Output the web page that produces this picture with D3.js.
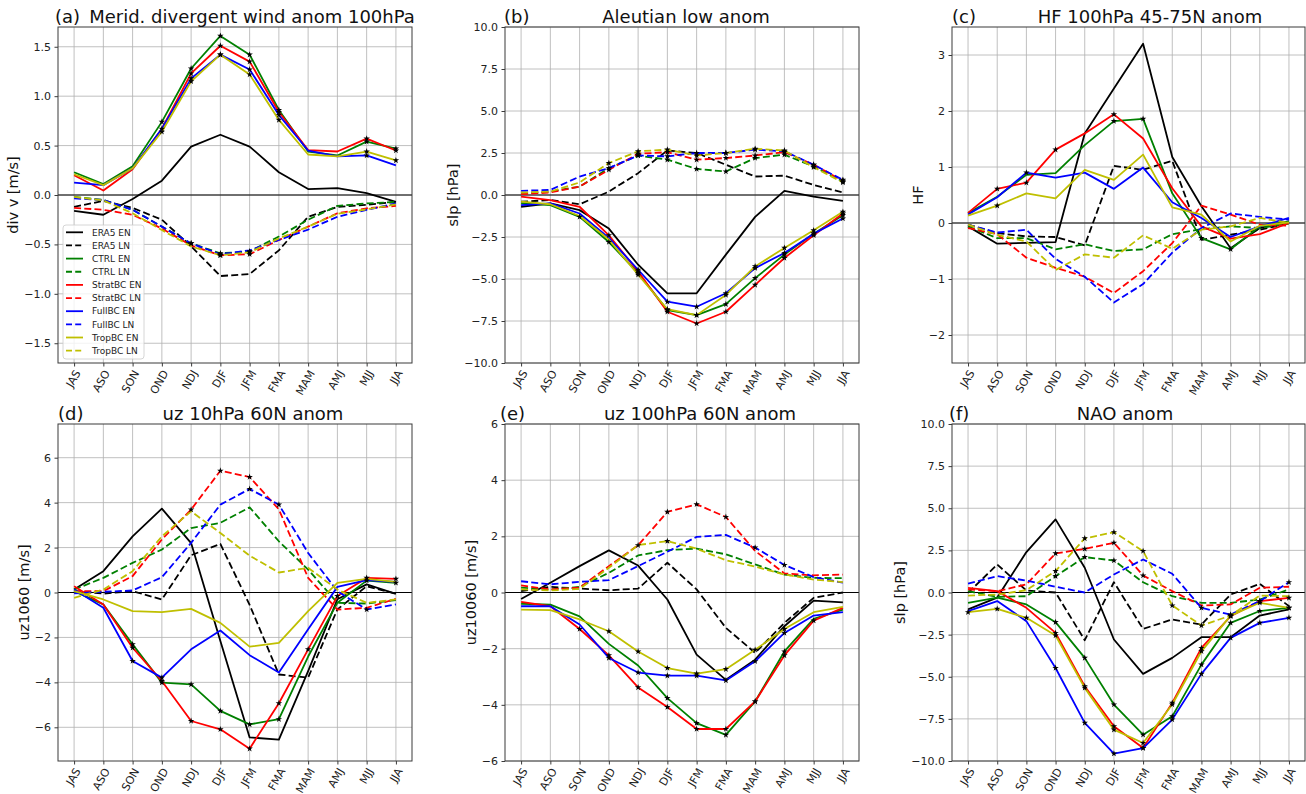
<!DOCTYPE html>
<html><head><meta charset="utf-8">
<script src="https://cdn.jsdelivr.net/npm/d3@7"></script>
<style>body{margin:0;background:#fff} svg{display:block;font-family:"DejaVu Sans",sans-serif}</style>
</head><body><svg id="c" width="1306" height="794"></svg>
<script>
const months = ["JAS","ASO","SON","OND","NDJ","DJF","JFM","FMA","MAM","AMJ","MJJ","JJA"];
const seriesNames = ["ERA5 EN","ERA5 LN","CTRL EN","CTRL LN","StratBC EN","StratBC LN","FullBC EN","FullBC LN","TropBC EN","TropBC LN"];

// (a) Merid. divergent wind anom 100hPa
const dataA = [
  [-0.16,-0.20,-0.04,0.145,0.49,0.61,0.49,0.23,0.06,0.07,0.02,-0.07],
  [-0.12,-0.06,-0.13,-0.25,-0.52,-0.82,-0.80,-0.56,-0.22,-0.12,-0.10,-0.07],
  [0.23,0.11,0.29,0.74,1.28,1.61,1.42,0.86,0.44,0.40,0.54,0.47],
  [-0.02,-0.05,-0.15,-0.32,-0.49,-0.59,-0.57,-0.42,-0.25,-0.11,-0.085,-0.07],
  [0.20,0.045,0.26,0.67,1.23,1.51,1.35,0.84,0.455,0.44,0.57,0.45],
  [-0.13,-0.15,-0.20,-0.34,-0.51,-0.61,-0.60,-0.455,-0.32,-0.185,-0.135,-0.11],
  [0.125,0.10,0.27,0.67,1.18,1.42,1.27,0.81,0.45,0.39,0.40,0.30],
  [-0.035,-0.05,-0.15,-0.32,-0.49,-0.60,-0.56,-0.455,-0.35,-0.22,-0.15,-0.085],
  [0.21,0.10,0.27,0.64,1.15,1.42,1.22,0.76,0.41,0.39,0.44,0.35],
  [-0.02,-0.055,-0.185,-0.355,-0.52,-0.61,-0.58,-0.44,-0.32,-0.19,-0.145,-0.095]
];
// (b) Aleutian low anom
const dataB = [
  [-0.7,-0.5,-0.9,-2.0,-4.15,-5.85,-5.85,-3.55,-1.3,0.25,-0.1,-0.35],
  [-0.4,-0.3,-0.55,0.2,1.3,2.65,2.5,1.8,1.1,1.15,0.6,0.15],
  [-0.5,-0.6,-1.3,-2.8,-4.65,-6.85,-7.15,-6.5,-4.95,-3.55,-2.3,-1.2],
  [0.1,0.2,0.5,1.6,2.35,2.1,1.55,1.4,2.2,2.4,1.7,0.8],
  [-0.1,-0.3,-0.7,-2.4,-4.55,-6.95,-7.65,-6.95,-5.35,-3.75,-2.4,-1.1],
  [0.05,0.15,0.5,1.5,2.45,2.55,2.1,2.2,2.35,2.55,1.8,0.85],
  [-0.6,-0.5,-1.1,-2.55,-4.45,-6.35,-6.65,-5.85,-4.35,-3.45,-2.3,-1.4],
  [0.25,0.3,1.1,1.6,2.35,2.3,2.5,2.5,2.7,2.6,1.8,0.9],
  [-0.4,-0.55,-1.25,-2.65,-4.75,-6.8,-7.15,-5.95,-4.25,-3.15,-2.1,-1.0],
  [0.15,0.2,0.75,1.9,2.6,2.7,2.35,2.5,2.75,2.65,1.65,0.75]
];
// (c) HF 100hPa 45-75N anom
const dataC = [
  [-0.06,-0.37,-0.355,-0.34,1.6,2.4,3.2,1.18,0.3,-0.45,-0.09,0.03],
  [-0.03,-0.18,-0.24,-0.25,-0.40,1.02,0.95,1.11,-0.30,-0.21,-0.12,-0.01],
  [0.18,0.47,0.86,0.89,1.39,1.82,1.86,0.53,-0.27,-0.47,-0.06,0.03],
  [-0.06,-0.27,-0.27,-0.47,-0.38,-0.5,-0.47,-0.2,-0.11,-0.06,-0.09,-0.01],
  [0.18,0.61,0.72,1.31,1.6,1.94,1.51,0.62,-0.06,-0.28,-0.2,0.0],
  [-0.09,-0.2,-0.62,-0.8,-0.96,-1.25,-0.86,-0.36,0.31,0.15,-0.03,-0.05],
  [0.15,0.46,0.9,0.81,0.9,0.61,0.99,0.37,0.09,-0.25,-0.06,0.09],
  [-0.03,-0.17,-0.12,-0.64,-0.96,-1.42,-1.09,-0.53,-0.09,0.17,0.11,0.06],
  [0.13,0.31,0.53,0.44,0.95,0.77,1.22,0.28,0.15,-0.33,-0.05,0.01],
  [-0.03,-0.21,-0.33,-0.84,-0.56,-0.62,-0.22,-0.46,-0.12,-0.06,0.09,0.0]
];
// (d) uz 10hPa 60N anom
const dataD = [
  [0.13,0.95,2.5,3.73,2.2,-2.16,-6.45,-6.55,-3.5,-0.3,0.36,-0.06],
  [0.06,-0.05,0.06,-0.31,1.66,2.16,-0.55,-3.65,-3.79,-0.75,0.28,-0.05],
  [0.06,-0.53,-2.31,-4.01,-4.09,-5.27,-5.87,-5.64,-2.85,-0.46,0.53,0.43],
  [0.13,0.65,1.32,1.91,2.87,3.1,3.79,2.28,1.02,-0.46,-0.49,-0.34],
  [0.28,-0.53,-2.46,-3.94,-5.72,-6.09,-6.95,-4.93,-2.53,-0.16,0.65,0.61],
  [0.06,0.06,0.73,2.36,3.69,5.42,5.14,3.7,0.65,-0.76,-0.68,-0.28],
  [0.13,-0.68,-3.05,-3.79,-2.53,-1.69,-2.79,-3.56,-1.64,0.25,0.55,0.47],
  [-0.04,0.03,0.09,0.68,2.21,3.91,4.61,3.91,1.76,0.06,-0.76,-0.53],
  [0.06,-0.31,-0.83,-0.87,-0.73,-1.35,-2.41,-2.24,-0.83,0.43,0.61,0.47],
  [-0.24,0.13,0.95,2.5,3.61,2.65,1.64,0.89,1.1,0.13,-0.46,-0.31]
];
// (e) uz 100hPa 60N anom
const dataE = [
  [-0.23,0.35,0.94,1.5,0.96,-0.25,-2.21,-3.11,-2.39,-1.2,-0.29,-0.35],
  [0.05,0.2,0.14,0.08,0.14,1.06,0.11,-1.26,-2.15,-1.08,-0.19,0.0],
  [-0.4,-0.43,-0.85,-1.83,-2.6,-3.76,-4.65,-5.07,-3.88,-2.1,-0.94,-0.61],
  [0.17,0.11,0.2,0.7,1.32,1.51,1.56,1.36,1.0,0.64,0.52,0.51],
  [-0.33,-0.49,-1.3,-2.24,-3.38,-4.08,-4.86,-4.86,-3.88,-2.24,-1.0,-0.55],
  [0.25,0.11,0.17,0.94,1.68,2.87,3.14,2.69,1.48,0.68,0.61,0.64],
  [-0.49,-0.49,-1.14,-2.33,-2.85,-2.96,-2.96,-3.13,-2.45,-1.44,-0.82,-0.7],
  [0.4,0.29,0.38,0.44,0.94,1.45,1.98,2.05,1.6,0.98,0.55,0.35],
  [-0.61,-0.63,-0.96,-1.38,-2.1,-2.69,-2.89,-2.73,-2.04,-1.3,-0.7,-0.51],
  [0.11,0.07,0.13,0.88,1.69,1.83,1.56,1.15,0.92,0.64,0.46,0.37]
];
// (f) NAO anom
const dataF = [
  [-1.0,-0.3,2.4,4.34,1.47,-2.79,-4.83,-3.88,-2.65,-2.65,-1.37,-1.0],
  [-0.02,1.66,0.12,0.0,-2.83,0.61,-2.16,-1.6,-1.9,-0.12,0.51,-0.81],
  [-0.61,-0.3,-0.71,-1.76,-3.88,-6.65,-8.44,-7.35,-4.28,-1.8,-1.1,-0.91],
  [0.08,-0.26,-0.22,0.97,2.1,1.9,0.61,-0.22,-0.61,-0.61,-0.42,0.18],
  [0.28,0.08,-0.91,-2.4,-5.56,-7.94,-9.23,-6.55,-3.29,-1.41,-0.51,-0.32],
  [0.18,0.08,0.48,2.32,2.59,2.95,1.01,0.08,-0.77,-0.71,0.28,0.34],
  [-1.1,-0.51,-1.7,-4.48,-7.74,-9.56,-9.23,-7.54,-4.83,-2.69,-1.8,-1.5],
  [0.53,0.97,0.71,0.34,0.0,1.07,1.96,1.11,-0.91,-1.31,-0.51,0.61],
  [-1.17,-0.97,-1.5,-2.55,-5.66,-8.14,-8.93,-6.65,-3.49,-1.37,-0.61,-0.91],
  [-0.18,-0.12,0.14,1.27,3.21,3.58,2.46,-0.77,-1.96,-1.37,-0.18,-0.22]
];

// significance stars: indices of marked points per series
const starsA = [[],[],[3,4,5,6,7,10,11],[4,5,6],[4,5,6,7,10,11],[5,6],[3,4,5,6,7,10],[4,5],[3,4,5,6,7,10,11],[5,6]];
const starsB = [[],[],[2,3,4,5,6,7,8,9,10,11],[3,4,5,6,7,8,9,10,11],[3,4,5,6,7,8,9,10,11],[3,4,5,6,7,8,9,10,11],[4,5,6,7,8,9,10,11],[4,5,6,7,8,9,10,11],[4,5,6,7,8,9,10,11],[3,4,5,6,7,8,9,10,11]];
const starsC = [[],[],[5,6,8,9],[],[1,2,3,5],[],[2],[],[1],[]];
const starsD = [[],[],[2,3,4,5,6,7,10,11],[],[2,3,4,5,6,7,8,9,10,11],[4,5,6],[2,3],[6,7,10],[],[]];
const starsE = [[],[],[5,6,7,8,9],[],[2,3,4,5,6,7,8,9,10],[4,5,6,7],[3,4,5,6,7,8,9],[8,9],[3,4,5,6,7,8,9],[5]];
const starsF = [[],[],[3,4,5,6,7,8,9,10,11],[3,4,5],[3,4,5,6,7,8,9,10,11],[3,4,5,6],[3,4,5,6,7,8,9,10,11],[8,9,10,11],[0,1,2,3,4,5,6,7,8,9,10,11],[3,4,5,6,7,8,9]];

const yTicksA = [-1.5,-1.0,-0.5,0.0,0.5,1.0,1.5];
const yTicksB = [-10,-7.5,-5,-2.5,0,2.5,5,7.5,10];
const yTicksC = [-2,-1,0,1,2,3];
const yTicksD = [-6,-4,-2,0,2,4,6];
const yTicksE = [-6,-4,-2,0,2,4,6];
const yTicksF = [-10,-7.5,-5,-2.5,0,2.5,5,7.5,10];

const colors = ["#000000","#000000","#008000","#008000","#ff0000","#ff0000","#0000ff","#0000ff","#bfbf00","#bfbf00"];

const panels = [
  {lab:"(a)", title:"Merid. divergent wind anom 100hPa", ylabel:"div v [m/s]", data:dataA, stars:starsA, ticks:yTicksA, fmt:".1f", yd:[-1.7,1.7], l:58, r:412, t:27, b:363, labX:55, tcx:252, legend:true},
  {lab:"(b)", title:"Aleutian low anom", ylabel:"slp [hPa]", data:dataB, stars:starsB, ticks:yTicksB, fmt:".1f", yd:[-10,10], l:505, r:859, t:27, b:363, labX:504, tcx:686},
  {lab:"(c)", title:"HF 100hPa 45-75N anom", ylabel:"HF", data:dataC, stars:starsC, ticks:yTicksC, fmt:"d", yd:[-2.5,3.5], l:952, r:1305, t:27, b:363, labX:952, tcx:1150},
  {lab:"(d)", title:"uz 10hPa 60N anom", ylabel:"uz1060 [m/s]", data:dataD, stars:starsD, ticks:yTicksD, fmt:"d", yd:[-7.5,7.5], l:58, r:412, t:424, b:761, labX:58, tcx:253},
  {lab:"(e)", title:"uz 100hPa 60N anom", ylabel:"uz10060 [m/s]", data:dataE, stars:starsE, ticks:yTicksE, fmt:"d", yd:[-6,6], l:505, r:859, t:424, b:761, labX:500, tcx:700},
  {lab:"(f)", title:"NAO anom", ylabel:"slp [hPa]", data:dataF, stars:starsF, ticks:yTicksF, fmt:".1f", yd:[-10,10], l:952, r:1305, t:424, b:761, labX:949, tcx:1125}
];

const svg = d3.select("#c");
const star = d3.symbol().type(d3.symbolStar).size(13);

panels.forEach(p => {
  const x = d3.scaleLinear().domain([-0.55, 11.55]).range([p.l, p.r]);
  const y = d3.scaleLinear().domain(p.yd).range([p.b, p.t]);
  const g = svg.append("g");
  const idx = d3.range(months.length);

  // grid
  g.append("g").selectAll("line").data(idx).join("line")
    .attr("x1", d => x(d)).attr("x2", d => x(d)).attr("y1", p.t).attr("y2", p.b)
    .attr("stroke", "#b0b0b0").attr("stroke-width", 0.8);
  g.append("g").selectAll("line").data(p.ticks).join("line")
    .attr("x1", p.l).attr("x2", p.r).attr("y1", d => y(d)).attr("y2", d => y(d))
    .attr("stroke", "#b0b0b0").attr("stroke-width", 0.8);
  // zero line
  g.append("line").attr("x1", p.l).attr("x2", p.r).attr("y1", y(0)).attr("y2", y(0))
    .attr("stroke", "#000").attr("stroke-width", 1);

  const clipId = "clip" + p.lab.replace(/[()]/g, "");
  svg.append("clipPath").attr("id", clipId).append("rect")
    .attr("x", p.l).attr("y", p.t).attr("width", p.r - p.l).attr("height", p.b - p.t);

  const line = d3.line().x((d, i) => x(i)).y(d => y(d));
  const lg = g.append("g").attr("clip-path", `url(#${clipId})`);
  p.data.forEach((s, k) => {
    lg.append("path").datum(s).attr("d", line).attr("fill", "none")
      .attr("stroke", colors[k]).attr("stroke-width", 1.8)
      .attr("stroke-linejoin", "round")
      .attr("stroke-dasharray", k % 2 === 1 ? "7,3.2" : null);
  });
  p.stars.forEach((list, k) => {
    lg.selectAll(null).data(list).join("path")
      .attr("d", star).attr("transform", i => `translate(${x(i)},${y(p.data[k][i])})`)
      .attr("fill", "#000");
  });

  // frame
  g.append("rect").attr("x", p.l).attr("y", p.t).attr("width", p.r - p.l).attr("height", p.b - p.t)
    .attr("fill", "none").attr("stroke", "#3a3a3a").attr("stroke-width", 1);

  // axes
  const ya = g.append("g").attr("transform", `translate(${p.l},0)`)
    .call(d3.axisLeft(y).tickValues(p.ticks).tickFormat(d3.format(p.fmt)).tickSize(3.5).tickPadding(3.5));
  ya.select(".domain").remove();
  ya.attr("font-size", 11).attr("font-family", "DejaVu Sans");
  ya.selectAll(".tick line").attr("stroke", "#3a3a3a");
  ya.selectAll(".tick text").attr("fill", "#222");

  const xa = g.append("g").attr("transform", `translate(0,${p.b})`)
    .call(d3.axisBottom(x).tickValues(idx).tickFormat(i => months[i]).tickSize(3.5));
  xa.select(".domain").remove();
  xa.attr("font-size", 11).attr("font-family", "DejaVu Sans");
  xa.selectAll(".tick line").attr("stroke", "#3a3a3a");
  xa.selectAll(".tick text").attr("fill", "#222")
    .attr("x", 6.5).attr("y", 10).attr("dy", null).attr("text-anchor", "end")
    .attr("transform", "rotate(-60,6.5,10)");

  // y label
  const bb = ya.node().getBBox();
  const lx = p.l + bb.x - 6;
  g.append("text").attr("transform", `translate(${lx},${(p.t + p.b) / 2}) rotate(-90)`)
    .attr("text-anchor", "middle").attr("font-size", 14.5).attr("fill", "#111").text(p.ylabel);

  // titles
  const ty = p.t - 4.5;
  g.append("text").attr("x", p.labX).attr("y", ty).attr("font-size", 18).attr("fill", "#111").text(p.lab);
  g.append("text").attr("x", p.tcx).attr("y", ty).attr("text-anchor", "middle")
    .attr("font-size", 18).attr("fill", "#111").text(p.title);

  if (p.legend) {
    const lgX = 63, lgY = 225, lgW = 81, lgH = 134, rowH = 13.15;
    const L = g.append("g");
    L.append("rect").attr("x", lgX).attr("y", lgY).attr("width", lgW).attr("height", lgH)
      .attr("rx", 3).attr("fill", "#fff").attr("fill-opacity", 0.8)
      .attr("stroke", "#cccccc").attr("stroke-width", 0.8);
    seriesNames.forEach((n, k) => {
      const yy = lgY + 7.3 + k * rowH;
      L.append("line").attr("x1", lgX + 3).attr("x2", lgX + 20).attr("y1", yy).attr("y2", yy)
        .attr("stroke", colors[k]).attr("stroke-width", 1.8)
        .attr("stroke-dasharray", k % 2 === 1 ? "6,3.2" : null);
      L.append("text").attr("x", lgX + 29).attr("y", yy + 3.2).attr("font-size", 9)
        .attr("fill", "#222").text(n);
    });
  }
});
</script></body></html>
